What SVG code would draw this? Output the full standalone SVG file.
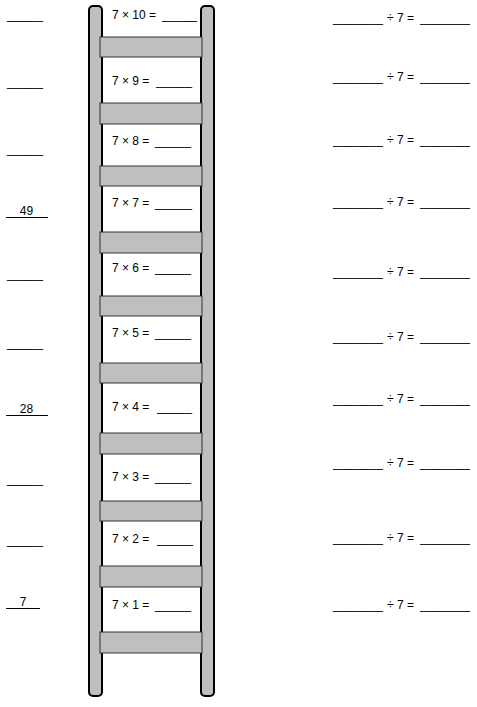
<svg xmlns="http://www.w3.org/2000/svg" width="477" height="707" viewBox="0 0 477 707">
<style>
text{font-family:"Liberation Sans",Arial,sans-serif;font-size:12px;fill:#000}
.rail{fill:#bfbfbf;stroke:#000;stroke-width:2}
.rung{fill:#bfbfbf;stroke:#333;stroke-width:1}
.ul{stroke:#000;stroke-width:1}
</style>
<rect width="477" height="707" fill="#fff"/>
<g id="ladder">
<rect class="rail" x="89" y="6" width="13" height="690" rx="4"/>
<rect class="rail" x="201" y="6" width="13" height="690" rx="4"/>
<rect class="rung" x="100" y="37" width="102" height="20"/>
<rect class="rung" x="100" y="103" width="102" height="21"/>
<rect class="rung" x="100" y="166" width="102" height="20"/>
<rect class="rung" x="100" y="232" width="102" height="21"/>
<rect class="rung" x="100" y="296" width="102" height="20"/>
<rect class="rung" x="100" y="363" width="102" height="20"/>
<rect class="rung" x="100" y="433" width="102" height="21"/>
<rect class="rung" x="100" y="501" width="102" height="20"/>
<rect class="rung" x="100" y="566" width="102" height="21"/>
<rect class="rung" x="100" y="632" width="102" height="21"/>
</g>
<g id="ladder-facts">
<text x="112" y="18.5">7 × 10 = <tspan x="162" textLength="35" lengthAdjust="spacingAndGlyphs">_____</tspan></text>
<text x="112" y="85">7 × 9 = <tspan x="156" textLength="36" lengthAdjust="spacingAndGlyphs">_____</tspan></text>
<text x="112" y="145">7 × 8 = <tspan x="155" textLength="36" lengthAdjust="spacingAndGlyphs">_____</tspan></text>
<text x="112" y="207">7 × 7 = <tspan x="155" textLength="37" lengthAdjust="spacingAndGlyphs">_____</tspan></text>
<text x="112" y="272">7 × 6 = <tspan x="155" textLength="36" lengthAdjust="spacingAndGlyphs">_____</tspan></text>
<text x="112" y="337">7 × 5 = <tspan x="155" textLength="36" lengthAdjust="spacingAndGlyphs">_____</tspan></text>
<text x="112" y="411">7 × 4 = <tspan x="157" textLength="35" lengthAdjust="spacingAndGlyphs">_____</tspan></text>
<text x="112" y="481">7 × 3 = <tspan x="155" textLength="36" lengthAdjust="spacingAndGlyphs">_____</tspan></text>
<text x="112" y="543">7 × 2 = <tspan x="157" textLength="36" lengthAdjust="spacingAndGlyphs">_____</tspan></text>
<text x="112" y="609">7 × 1 = <tspan x="155" textLength="36" lengthAdjust="spacingAndGlyphs">_____</tspan></text>
</g>
<g id="left-answers">
<text x="7" y="18.5" textLength="36" lengthAdjust="spacingAndGlyphs">_____</text>
<text x="7" y="85.5" textLength="36" lengthAdjust="spacingAndGlyphs">_____</text>
<text x="7" y="152.5" textLength="36" lengthAdjust="spacingAndGlyphs">_____</text>
<text x="26.5" y="215" text-anchor="middle">49</text>
<line class="ul" x1="6" y1="217.5" x2="48" y2="217.5"/>
<text x="7" y="277.5" textLength="36" lengthAdjust="spacingAndGlyphs">_____</text>
<text x="7" y="346.5" textLength="36" lengthAdjust="spacingAndGlyphs">_____</text>
<text x="26.5" y="413" text-anchor="middle">28</text>
<line class="ul" x1="6" y1="415.5" x2="48" y2="415.5"/>
<text x="7" y="482.5" textLength="36" lengthAdjust="spacingAndGlyphs">_____</text>
<text x="7" y="543.5" textLength="36" lengthAdjust="spacingAndGlyphs">_____</text>
<text x="23" y="606" text-anchor="middle">7</text>
<line class="ul" x1="6" y1="608.5" x2="40" y2="608.5"/>
</g>
<g id="division">
<text x="333" y="21.5"><tspan textLength="50" lengthAdjust="spacingAndGlyphs">_______</tspan><tspan x="387">÷ 7 =</tspan><tspan x="420" textLength="50" lengthAdjust="spacingAndGlyphs">_______</tspan></text>
<text x="333" y="80.5"><tspan textLength="50" lengthAdjust="spacingAndGlyphs">_______</tspan><tspan x="387">÷ 7 =</tspan><tspan x="420" textLength="50" lengthAdjust="spacingAndGlyphs">_______</tspan></text>
<text x="333" y="143.5"><tspan textLength="50" lengthAdjust="spacingAndGlyphs">_______</tspan><tspan x="387">÷ 7 =</tspan><tspan x="420" textLength="50" lengthAdjust="spacingAndGlyphs">_______</tspan></text>
<text x="333" y="205.5"><tspan textLength="50" lengthAdjust="spacingAndGlyphs">_______</tspan><tspan x="387">÷ 7 =</tspan><tspan x="420" textLength="50" lengthAdjust="spacingAndGlyphs">_______</tspan></text>
<text x="333" y="275.5"><tspan textLength="50" lengthAdjust="spacingAndGlyphs">_______</tspan><tspan x="387">÷ 7 =</tspan><tspan x="420" textLength="50" lengthAdjust="spacingAndGlyphs">_______</tspan></text>
<text x="333" y="340.5"><tspan textLength="50" lengthAdjust="spacingAndGlyphs">_______</tspan><tspan x="387">÷ 7 =</tspan><tspan x="420" textLength="50" lengthAdjust="spacingAndGlyphs">_______</tspan></text>
<text x="333" y="402.5"><tspan textLength="50" lengthAdjust="spacingAndGlyphs">_______</tspan><tspan x="387">÷ 7 =</tspan><tspan x="420" textLength="50" lengthAdjust="spacingAndGlyphs">_______</tspan></text>
<text x="333" y="466.5"><tspan textLength="50" lengthAdjust="spacingAndGlyphs">_______</tspan><tspan x="387">÷ 7 =</tspan><tspan x="420" textLength="50" lengthAdjust="spacingAndGlyphs">_______</tspan></text>
<text x="333" y="541.5"><tspan textLength="50" lengthAdjust="spacingAndGlyphs">_______</tspan><tspan x="387">÷ 7 =</tspan><tspan x="420" textLength="50" lengthAdjust="spacingAndGlyphs">_______</tspan></text>
<text x="333" y="608.5"><tspan textLength="50" lengthAdjust="spacingAndGlyphs">_______</tspan><tspan x="387">÷ 7 =</tspan><tspan x="420" textLength="50" lengthAdjust="spacingAndGlyphs">_______</tspan></text>
</g>
</svg>
